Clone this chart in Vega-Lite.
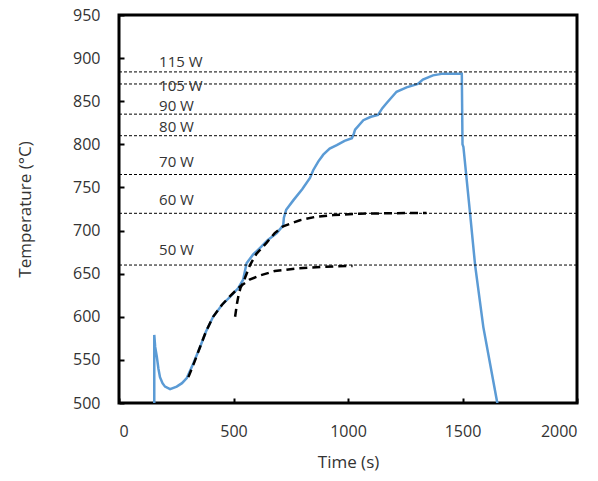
{
  "$schema": "https://vega.github.io/schema/vega-lite/v6.json",
  "autosize": {"type": "none"},
  "width": 458,
  "height": 388,
  "padding": {"left": 119, "top": 15, "right": 21, "bottom": 78},
  "background": "white",
  "config": {
    "font": "Open Sans",
    "view": {"stroke": "black", "strokeWidth": 3},
    "axis": {"grid": false, "domain": false, "tickColor": "black", "tickWidth": 2, "tickSize": -5, "labelColor": "#333333", "titleColor": "#333333", "labelFontSize": 16, "titleFontSize": 17, "titleFontWeight": "normal", "labelFont": "Open Sans", "titleFont": "Open Sans"}
  },
  "datasets": {
    "blue": [
      {"t": 154, "T": 500}, {"t": 154, "T": 579}, {"t": 158, "T": 565}, {"t": 165, "T": 554}, {"t": 172, "T": 540}, {"t": 179, "T": 530}, {"t": 190, "T": 523}, {"t": 201, "T": 519}, {"t": 223, "T": 516}, {"t": 252, "T": 519}, {"t": 275, "T": 523}, {"t": 296, "T": 529}, {"t": 325, "T": 546}, {"t": 354, "T": 565}, {"t": 380, "T": 583}, {"t": 411, "T": 600}, {"t": 450, "T": 614}, {"t": 485, "T": 623}, {"t": 520, "T": 633}, {"t": 542, "T": 643}, {"t": 550, "T": 653}, {"t": 557, "T": 662}, {"t": 585, "T": 672}, {"t": 616, "T": 680}, {"t": 650, "T": 689}, {"t": 689, "T": 697}, {"t": 717, "T": 706}, {"t": 720, "T": 715}, {"t": 730, "T": 724}, {"t": 761, "T": 735}, {"t": 800, "T": 748}, {"t": 834, "T": 761}, {"t": 848, "T": 770}, {"t": 870, "T": 780}, {"t": 892, "T": 788}, {"t": 920, "T": 795}, {"t": 951, "T": 799}, {"t": 985, "T": 804}, {"t": 1017, "T": 807}, {"t": 1025, "T": 812}, {"t": 1031, "T": 817}, {"t": 1067, "T": 828}, {"t": 1100, "T": 832}, {"t": 1131, "T": 834}, {"t": 1150, "T": 842}, {"t": 1169, "T": 848}, {"t": 1212, "T": 861}, {"t": 1256, "T": 866}, {"t": 1305, "T": 870}, {"t": 1327, "T": 875}, {"t": 1371, "T": 880}, {"t": 1415, "T": 882}, {"t": 1497, "T": 882}, {"t": 1500, "T": 800}, {"t": 1504, "T": 797}, {"t": 1533, "T": 720}, {"t": 1555, "T": 660}, {"t": 1591, "T": 588}, {"t": 1652, "T": 500}, {"t": 1656, "T": 494}
    ],
    "fitA": [
      {"t": 303, "T": 530}, {"t": 330, "T": 548}, {"t": 354, "T": 565}, {"t": 380, "T": 583}, {"t": 411, "T": 600}, {"t": 450, "T": 614}, {"t": 485, "T": 624}, {"t": 528, "T": 635}, {"t": 570, "T": 643}, {"t": 616, "T": 648}, {"t": 680, "T": 653}, {"t": 776, "T": 656}, {"t": 900, "T": 658}, {"t": 1020, "T": 659}
    ],
    "fitB": [
      {"t": 507, "T": 600}, {"t": 515, "T": 615}, {"t": 522, "T": 625}, {"t": 530, "T": 633}, {"t": 550, "T": 645}, {"t": 572, "T": 660}, {"t": 600, "T": 673}, {"t": 645, "T": 686}, {"t": 680, "T": 697}, {"t": 717, "T": 705}, {"t": 790, "T": 712}, {"t": 860, "T": 716}, {"t": 936, "T": 718}, {"t": 1050, "T": 719.5}, {"t": 1153, "T": 720}, {"t": 1343, "T": 720.5}
    ],
    "levels": [
      {"T": 884, "label": "115 W", "ly": 896}, {"T": 870, "label": "105 W", "ly": 868}, {"T": 835, "label": "90 W", "ly": 844}, {"T": 810, "label": "80 W", "ly": 820}, {"T": 765, "label": "70 W", "ly": 780}, {"T": 720, "label": "60 W", "ly": 735}, {"T": 660, "label": "50 W", "ly": 678}
    ]
  },
  "layer": [
    {
      "data": {"name": "blue"},
      "mark": {"type": "line", "color": "#5B9BD5", "strokeWidth": 2.5, "clip": true},
      "encoding": {
        "x": {"field": "t", "type": "quantitative", "sort": null, "scale": {"domain": [0, 2000], "nice": false}, "axis": {"title": "Time (s)", "values": [0, 500, 1000, 1500, 2000], "format": "d", "labelPadding": 25, "titlePadding": 15}},
        "y": {"field": "T", "type": "quantitative", "scale": {"domain": [500, 950], "nice": false, "zero": false}, "axis": {"title": "Temperature (°C)", "values": [500, 550, 600, 650, 700, 750, 800, 850, 900, 950], "format": "d", "labelPadding": 24, "titlePadding": 38}},
        "order": {"field": "t"}
      }
    },
    {
      "data": {"name": "levels"},
      "mark": {"type": "rule", "color": "black", "strokeWidth": 1, "strokeDash": [3, 2]},
      "encoding": {"y": {"field": "T", "type": "quantitative"}}
    },
    {
      "data": {"name": "levels"},
      "mark": {"type": "text", "align": "left", "baseline": "middle", "fontSize": 15, "color": "#333333", "font": "Open Sans"},
      "encoding": {
        "x": {"datum": 175, "type": "quantitative"},
        "y": {"field": "ly", "type": "quantitative"},
        "text": {"field": "label"}
      }
    },
    {
      "data": {"name": "fitA"},
      "mark": {"type": "line", "color": "black", "strokeWidth": 2.5, "strokeDash": [8, 5]},
      "encoding": {
        "x": {"field": "t", "type": "quantitative"},
        "y": {"field": "T", "type": "quantitative"}
      }
    },
    {
      "data": {"name": "fitB"},
      "mark": {"type": "line", "color": "black", "strokeWidth": 2.5, "strokeDash": [8, 5]},
      "encoding": {
        "x": {"field": "t", "type": "quantitative"},
        "y": {"field": "T", "type": "quantitative"}
      }
    }
  ]
}
